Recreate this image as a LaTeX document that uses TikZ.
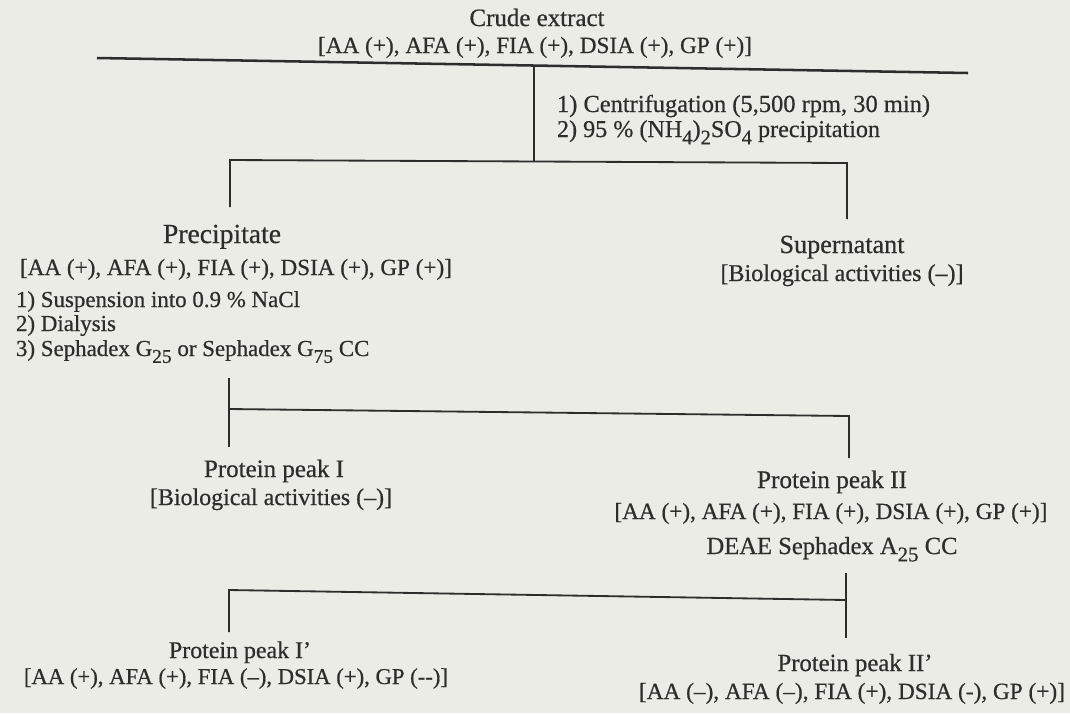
\documentclass[tikz,border=0pt]{standalone}
\usepackage{fontspec}
\setmainfont{Liberation Serif}[FakeBold=0.6]
\usepackage{graphicx}
\definecolor{paper}{RGB}{236,236,230}
\definecolor{ink}{RGB}{45,45,43}
\newdimen\pxu \pxu=0.025cm
\newcommand\fitw[2]{\resizebox{#1\pxu}{!}{#2}}
\newcommand\dsub[1]{\raisebox{-0.65ex}{\scalebox{0.85}{#1}}}
\tikzset{
  lbl/.style={text=ink, inner sep=0pt, outer sep=0pt, font=\fontsize{15}{18}\selectfont},
  steptext/.style={text=ink, inner sep=0pt, outer sep=0pt, font=\fontsize{16.3}{19}\selectfont},
  link/.style={draw=ink, line width=1.3pt},
  mainlink/.style={draw=ink, line width=1.8pt},
}
\begin{document}
\begin{tikzpicture}[x=0.025cm, y=-0.025cm]
\fill[paper] (0,0) rectangle (1070,713);
\useasboundingbox (0,0) rectangle (1070,713);

% ---- texts
\node[lbl, anchor=base] (crude) at (537,26) {\fitw{135}{Crude extract}};
\node[lbl, anchor=base] (crudeact) at (535,53) {\fitw{434}{[AA (+), AFA (+), FIA (+), DSIA (+), GP (+)]}};
\node[lbl, anchor=base west] (cent1) at (557,112) {\fitw{373}{1) Centrifugation (5,500 rpm, 30 min)}};
\node[lbl, anchor=base west] (cent2) at (557,137) {\fitw{323}{2) 95 \% (NH\dsub{4})\dsub{2}SO\dsub{4} precipitation}};

\node[lbl, anchor=base] (prec) at (222,243) {\fitw{118}{Precipitate}};
\node[lbl, anchor=base] (precact) at (236,275) {\fitw{432}{[AA (+), AFA (+), FIA (+), DSIA (+), GP (+)]}};
\node[steptext, anchor=base west] (s1) at (16,307) {1) Suspension into 0.9 \% NaCl};
\node[steptext, anchor=base west] (s2) at (16,331) {2) Dialysis};
\node[steptext, anchor=base west] (s3) at (16,356) {3) Sephadex G\dsub{25} or Sephadex G\dsub{75} CC};

\node[lbl, anchor=base] (sup) at (842,253) {\fitw{125}{Supernatant}};
\node[lbl, anchor=base] (supact) at (842,281) {\fitw{243}{[Biological activities (–)]}};

\node[lbl, anchor=base] (pk1) at (274,477) {\fitw{140}{Protein peak I}};
\node[lbl, anchor=base] (pk1act) at (271,505) {\fitw{242}{[Biological activities (–)]}};

\node[lbl, anchor=base] (pk2) at (832,488) {\fitw{150}{Protein peak II}};
\node[lbl, anchor=base] (pk2act) at (831,519) {\fitw{433}{[AA (+), AFA (+), FIA (+), DSIA (+), GP (+)]}};
\node[lbl, anchor=base] (deae) at (832,554) {\fitw{251}{DEAE Sephadex A\dsub{25} CC}};

\node[lbl, anchor=base] (pk1p) at (240,658) {\fitw{142}{Protein peak I'}};
\node[lbl, anchor=base] (pk1pact) at (236,684) {\fitw{424}{[AA (+), AFA (+), FIA (–), DSIA (+), GP (-{}-)]}};
\node[lbl, anchor=base] (pk2p) at (855,671) {\fitw{155}{Protein peak II'}};
\node[lbl, anchor=base] (pk2pact) at (852,699) {\fitw{426}{[AA (–), AFA (–), FIA (+), DSIA (-), GP (+)]}};

% ---- connector points
\coordinate (topL) at (97,58);
\coordinate (topR) at (968,73);
\coordinate (v1t) at (534,65);
\coordinate (v1b) at (534,161);
\coordinate (h2L) at (230,160);
\coordinate (h2R) at (847,163);
\coordinate (precT) at (230,207);
\coordinate (supT) at (847,219);
\coordinate (v2t) at (229,378);
\coordinate (h3L) at (229,409);
\coordinate (h3R) at (849,416);
\coordinate (pk1T) at (229,447);
\coordinate (pk2T) at (849,458);
\coordinate (v3t) at (846,573);
\coordinate (h4R) at (846,600);
\coordinate (h4L) at (229,590);
\coordinate (pk1pT) at (229,632);
\coordinate (pk2pT) at (846,638);

% ---- connectors
\draw[mainlink] (topL) -- (topR);
\draw[link] (v1t) -- (v1b);
\draw[link] (precT) -- (h2L) -- (h2R) -- (supT);
\draw[link] (v2t) -- (pk1T);
\draw[link] (h3L) -- (h3R) -- (pk2T);
\draw[link] (v3t) -- (pk2pT);
\draw[link] (pk1pT) -- (h4L) -- (h4R);
\end{tikzpicture}
\end{document}
